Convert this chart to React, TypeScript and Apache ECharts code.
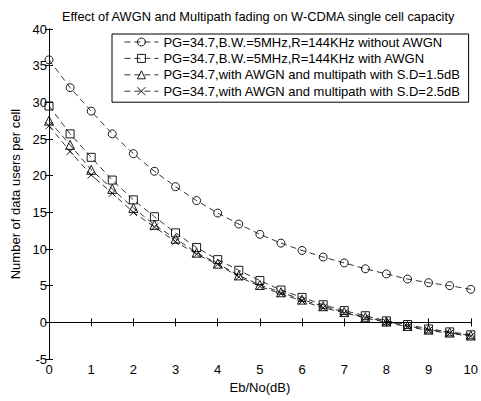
import React, { useEffect, useRef } from "react";
import * as echarts from "echarts";

const xValues = [0, 0.5, 1, 1.5, 2, 2.5, 3, 3.5, 4, 4.5, 5, 5.5, 6, 6.5, 7, 7.5, 8, 8.5, 9, 9.5, 10];
const withoutAwgn = [35.8, 32.0, 28.8, 25.7, 23.0, 20.6, 18.5, 16.6, 14.9, 13.4, 12.0, 10.8, 9.8, 8.9, 8.1, 7.3, 6.6, 5.9, 5.4, 5.0, 4.5];
const withAwgn = [29.5, 25.7, 22.5, 19.4, 16.7, 14.4, 12.2, 10.2, 8.55, 7.1, 5.7, 4.4, 3.4, 2.4, 1.6, 0.9, 0.2, -0.3, -0.9, -1.3, -1.7];
const multipath15 = [27.5, 24.2, 20.8, 18.2, 15.6, 13.3, 11.4, 9.5, 8.0, 6.4, 5.1, 4.1, 3.1, 2.2, 1.4, 0.7, 0.1, -0.5, -1.0, -1.4, -1.8];
const multipath25 = [26.8, 23.3, 20.1, 17.6, 15.0, 13.0, 11.0, 9.3, 7.9, 6.2, 4.9, 3.9, 2.9, 2.0, 1.3, 0.6, 0.0, -0.6, -1.1, -1.5, -1.9];

const seriesNames = [
  "PG=34.7,B.W.=5MHz,R=144KHz without AWGN",
  "PG=34.7,B.W.=5MHz,R=144KHz with AWGN",
  "PG=34.7,with AWGN and multipath with S.D=1.5dB",
  "PG=34.7,with AWGN and multipath with S.D=2.5dB",
];
const titleText = "Effect of AWGN and Multipath fading on W-CDMA single cell capacity";
const xName = "Eb/No(dB)";
const yName = "Number of data users per cell";

const FONT = "'Liberation Sans', Arial, sans-serif";
const FS = 13;
const crossMark = "path://M0,0L10,10M10,0L0,10";

export default function App() {
  const ref = useRef<HTMLDivElement>(null);
  useEffect(() => {
    if (!ref.current) return;
    const chart = echarts.init(ref.current, undefined, { renderer: "svg" });
    const pairs = (ys: number[]) => xValues.map((x, i) => [x, ys[i]]);
    const datasets = [withoutAwgn, withAwgn, multipath15, multipath25];
    const symbols = ["circle", "rect", "triangle", crossMark];
    const sizes = [8, 8, 9, 7];
    const axisCommon = {
      axisLine: { lineStyle: { color: "#000", width: 1 } },
      axisTick: { inside: true, length: 4, lineStyle: { color: "#000" } },
      splitLine: { show: false },
    };
    chart.setOption({
      animation: false,
      backgroundColor: "#fff",
      textStyle: { fontFamily: FONT },
      title: {
        text: titleText,
        left: 57,
        top: 5,
        textStyle: { fontSize: 12.8, fontWeight: "normal", color: "#000", fontFamily: FONT },
      },
      legend: {
        left: 112,
        top: 34,
        orient: "vertical",
        backgroundColor: "#fff",
        borderColor: "#000",
        borderWidth: 1,
        borderRadius: 0,
        padding: [1, 8, 4, 12],
        itemWidth: 34,
        itemHeight: 10,
        itemGap: 2.4,
        lineStyle: { width: 0.8 },
        itemStyle: { borderWidth: 0.9 },
        textStyle: { fontSize: FS, lineHeight: 14, color: "#000", fontFamily: FONT },
        data: seriesNames,
      },
      grid: { left: 49, right: 6, top: 29, bottom: 42, containLabel: false },
      xAxis: [
        {
          ...axisCommon,
          type: "value",
          min: 0,
          max: 10,
          interval: 1,
          name: xName,
          nameLocation: "middle",
          nameGap: 19,
          nameTextStyle: { fontSize: FS, color: "#000", fontFamily: FONT },
          axisLabel: { fontSize: FS, color: "#000", margin: 4, fontFamily: FONT },
        },
        {
          ...axisCommon,
          type: "value",
          position: "top",
          min: 0,
          max: 10,
          interval: 1,
          axisLabel: { show: false },
        },
      ],
      yAxis: [
        {
          ...axisCommon,
          type: "value",
          min: -5,
          max: 40,
          interval: 5,
          name: yName,
          nameLocation: "middle",
          nameGap: 27,
          nameTextStyle: { fontSize: FS, color: "#000", fontFamily: FONT },
          axisLabel: { fontSize: FS, color: "#000", margin: 2, fontFamily: FONT },
        },
        {
          ...axisCommon,
          type: "value",
          position: "right",
          min: -5,
          max: 40,
          interval: 5,
          axisLabel: { show: false },
        },
      ],
      series: datasets.map((ys, i) => ({
        name: seriesNames[i],
        type: "line",
        data: pairs(ys),
        symbol: symbols[i],
        symbolSize: sizes[i],
        showAllSymbol: true,
        lineStyle: { color: "#000", width: 0.8, type: [6, 4] },
        itemStyle: { color: "rgba(0,0,0,0)", borderColor: "#000", borderWidth: 0.9 },
        emphasis: { disabled: true },
        z: 3,
      })),
    });
    return () => chart.dispose();
  }, []);
  return <div ref={ref} style={{ width: 481, height: 401, position: "absolute", left: 0, top: 0 }} />;
}
